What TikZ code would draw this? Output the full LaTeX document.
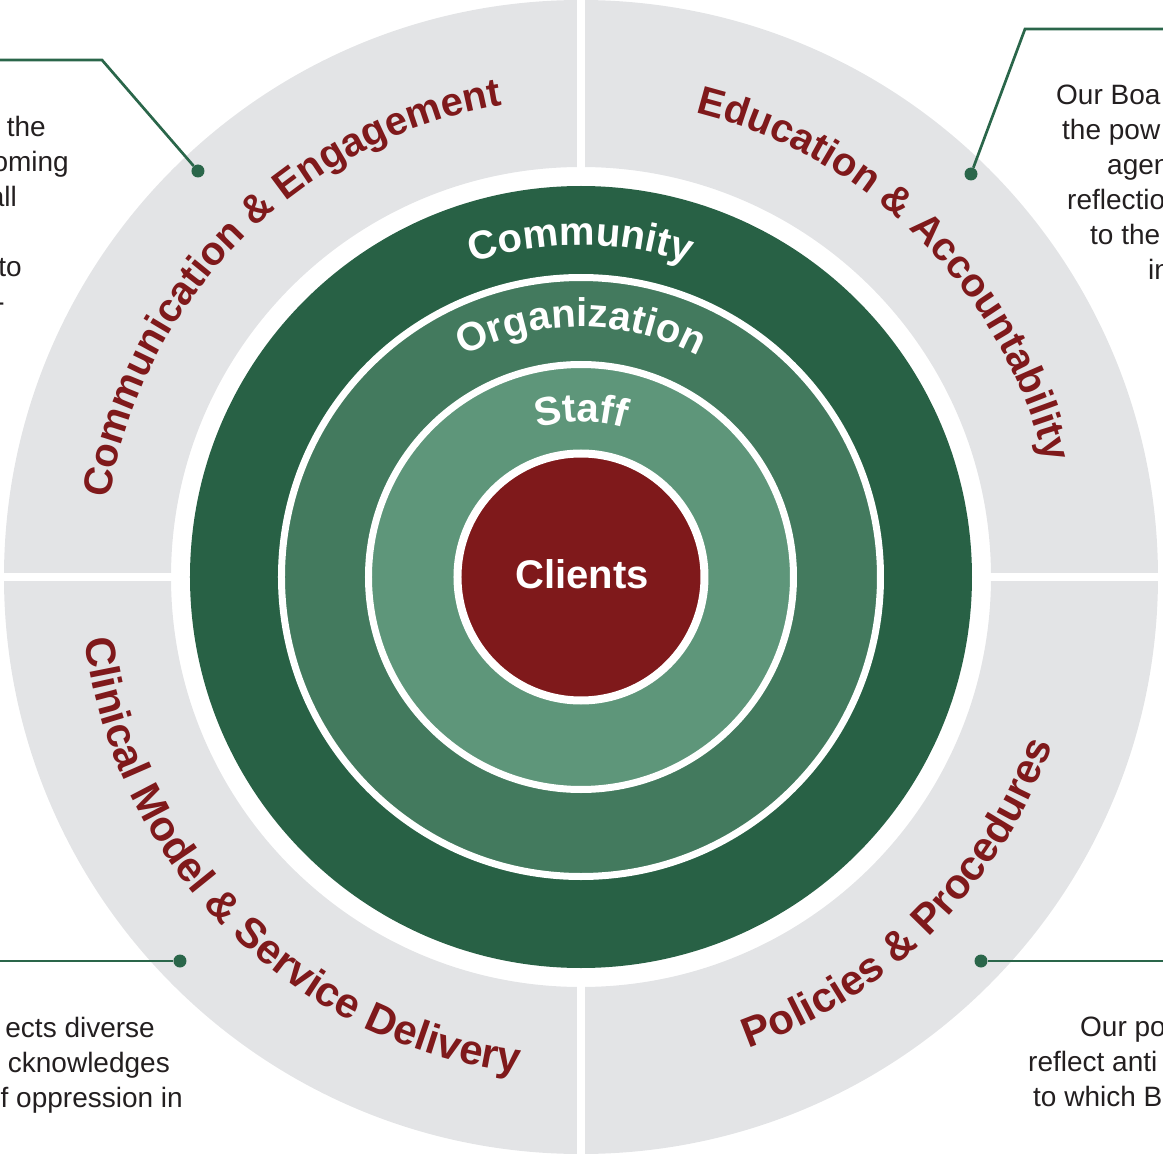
\documentclass[tikz,border=0pt]{standalone}
\usepackage{fontspec}
\setmainfont{Liberation Sans}
\usetikzlibrary{decorations.text}
\definecolor{ringgray}{HTML}{E3E4E6}
\definecolor{darkring}{HTML}{286145}
\definecolor{midring}{HTML}{437A5E}
\definecolor{lightring}{HTML}{5E967A}
\definecolor{clientred}{HTML}{7F191B}
\definecolor{linegreen}{HTML}{2A664A}
\definecolor{bodygray}{HTML}{231F20}
\newcommand{\labelfont}{\bfseries\fontsize{40}{48}\selectfont}
\newcommand{\lowlabelfont}{\bfseries\fontsize{42}{50}\selectfont}
\newcommand{\notefont}{\fontsize{28}{35}\selectfont}

\begin{document}
\begin{tikzpicture}[x=1pt,y=1pt]

\tikzset{outerlabel/.style = {decorate, decoration={text along path, text align=center, text color=clientred, text={|\labelfont|#1}}}}
\tikzset{lowlabel/.style = {decorate, decoration={text along path, text align=center, text color=clientred, text={|\lowlabelfont|#1}}}}
\tikzset{ringlabel/.style = {decorate, decoration={text along path, text align=center, text color=white, text={|\labelfont|#1}}}}
\tikzset{dot/.style = {circle, fill=linegreen, inner sep=0pt, minimum size=13}}
\tikzset{callout/.style = {draw=linegreen, line width=2.7}}
\tikzset{note/.style = {inner sep=0pt, text=bodygray, font=\notefont}}

\useasboundingbox (-581,-583) rectangle (582,577);
\clip (-581,-583) rectangle (582,577);

%outer ring
\fill[ringgray, even odd rule] (0,0) circle (577) (0,0) circle (410);
\draw[white, line width=8] (-600,0) -- (600,0);
\draw[white, line width=8] (0,-600) -- (0,600);

%inner rings
\fill[darkring] (0,0) circle (391);
\draw[white, line width=7, fill=midring] (0,0) circle (299.5);
\draw[white, line width=7, fill=lightring] (0,0) circle (212.5);
\node[circle, draw=white, line width=8, fill=clientred, minimum size=247, inner sep=0pt] (clients) at (0,0) {};
\node[text=white, font=\labelfont] (clientstext) at (1,3) {Clients};

%ring labels
\path[ringlabel={Community}] (150:332) arc[start angle=150, end angle=30, radius=332];
\path[ringlabel={Organization}] (160:250) arc[start angle=160, end angle=20, radius=250];
\path[ringlabel={Staff}] (150:155) arc[start angle=150, end angle=30, radius=155];

%quadrant labels
\path[outerlabel={Communication {\&} Engagement}] (178:478) arc[start angle=178, end angle=92, radius=478];
\path[outerlabel={Education {\&} Accountability}] (88:478) arc[start angle=88, end angle=2, radius=478];
\path[lowlabel={Clinical Model {\&} Service Delivery}] (182:500) arc[start angle=182, end angle=268, radius=500];
\path[lowlabel={Policies {\&} Procedures}] (272:500) arc[start angle=272, end angle=358, radius=500];

%callout lines
\node[dot] (d1) at (-383,406) {};
\coordinate (b1) at (-479,517);
\coordinate (e1) at (-600,517);
\draw[callout] (e1) -- (b1) -- (d1);

\node[dot] (d2) at (390,403) {};
\coordinate (b2) at (444,548);
\coordinate (e2) at (600,548);
\draw[callout] (e2) -- (b2) -- (d2);

\node[dot] (d3) at (-401,-384) {};
\coordinate (e3) at (-600,-384);
\draw[callout] (e3) -- (d3);

\node[dot] (d4) at (400,-384) {};
\coordinate (e4) at (600,-384);
\draw[callout] (e4) -- (d4);

%callout texts
\node[note, anchor=base east] (t1a) at (-535,440) {the};
\node[note, anchor=base east] (t1b) at (-512,405) {oming};
\node[note, anchor=base east] (t1c) at (-564,370) {all};
\node[note, anchor=base east] (t1d) at (-559,300) {to};
\node[note, anchor=base east] (t1e) at (-576,265) {-};

\node[note, anchor=base west] (t2a) at (475,472) {Our Boa};
\node[note, anchor=base west] (t2b) at (481,437) {the pow};
\node[note, anchor=base west] (t2c) at (526,402) {agen};
\node[note, anchor=base west] (t2d) at (486,367) {reflectio};
\node[note, anchor=base west] (t2e) at (509,332) {to the};
\node[note, anchor=base west] (t2f) at (567,297) {in};

\node[note, anchor=base east] (t3a) at (-426,-460) {ects diverse};
\node[note, anchor=base east] (t3b) at (-411,-495) {cknowledges};
\node[note, anchor=base east] (t3c) at (-398,-530) {f oppression in};

\node[note, anchor=base west] (t4a) at (499,-459) {Our po};
\node[note, anchor=base west] (t4b) at (447,-494) {reflect anti};
\node[note, anchor=base west] (t4c) at (452,-529) {to which B};

\end{tikzpicture}
\end{document}
